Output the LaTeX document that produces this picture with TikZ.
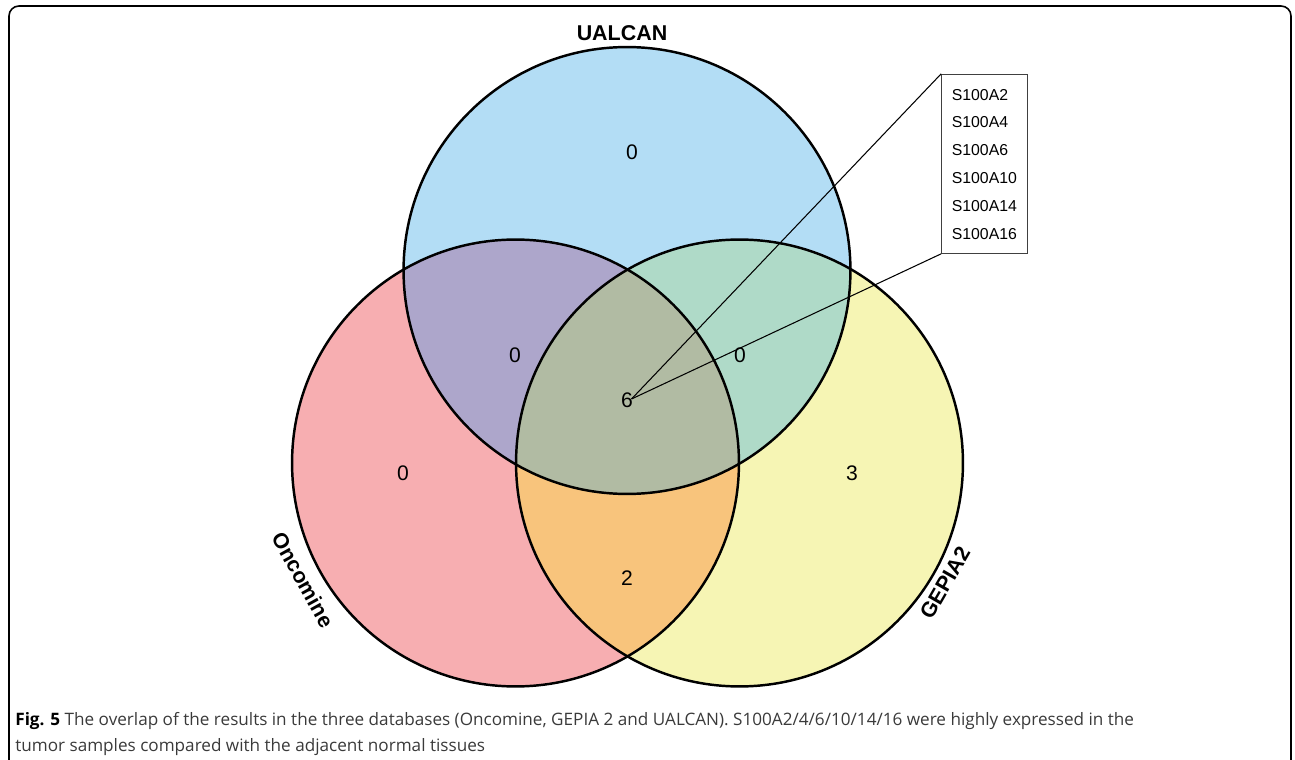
\documentclass[tikz,border=0pt]{standalone}
\usepackage{fontspec}
\setmainfont{Liberation Sans}
\newfontfamily\capfont{Open Sans}
\definecolor{ublue}{HTML}{B3DDF5}
\definecolor{opink}{HTML}{F7AEB1}
\definecolor{gyell}{HTML}{F6F5B4}
\definecolor{oupurp}{HTML}{ADA6CB}
\definecolor{uggreen}{HTML}{AFDAC8}
\definecolor{ogorange}{HTML}{F8C47C}
\definecolor{allmix}{HTML}{B1BBA3}
\definecolor{capgray}{HTML}{3A3A3A}
\tikzset{
  setline/.style={line width=1.4pt, draw=black},
  numlabel/.style={font=\fontsize{12}{14}\selectfont, inner sep=0pt},
  setname/.style={font=\fontsize{12.2}{14}\selectfont\bfseries, inner sep=0pt},
  genebox/.style={draw=black!75, line width=0.6pt, minimum width=1.72cm, minimum height=3.58cm, inner sep=0pt},
  genename/.style={font=\fontsize{9}{10}\selectfont, inner sep=0pt, anchor=west},
  leader/.style={line width=0.6pt, draw=black},
  captext/.style={font=\capfont\fontsize{9.75}{11}\selectfont, text=capgray, inner sep=0pt, anchor=base west},
}
\begin{document}
\begin{tikzpicture}[x=0.02cm, y=-0.02cm]
\useasboundingbox (0,0) rectangle (1295,760);
% frame
\draw[line width=0.9pt, rounded corners=0.2cm] (9,770) -- (9,6) -- (1291,6) -- (1291,770);
% circle centres
\coordinate (U) at (627,270.5);
\coordinate (O) at (515.5,463);
\coordinate (G) at (739.5,463);
% base fills
\fill[ublue] (U) circle[radius=4.47cm];
\fill[opink] (O) circle[radius=4.47cm];
\fill[gyell] (G) circle[radius=4.47cm];
% pairwise
\begin{scope}
  \clip (O) circle[radius=4.47cm];
  \fill[oupurp] (U) circle[radius=4.47cm];
\end{scope}
\begin{scope}
  \clip (G) circle[radius=4.47cm];
  \fill[uggreen] (U) circle[radius=4.47cm];
\end{scope}
\begin{scope}
  \clip (O) circle[radius=4.47cm];
  \fill[ogorange] (G) circle[radius=4.47cm];
\end{scope}
\begin{scope}
  \clip (O) circle[radius=4.47cm];
  \clip (G) circle[radius=4.47cm];
  \fill[allmix] (U) circle[radius=4.47cm];
\end{scope}
% outlines
\draw[setline] (U) circle[radius=4.47cm];
\draw[setline] (O) circle[radius=4.47cm];
\draw[setline] (G) circle[radius=4.47cm];
% set names
\node[setname] (nU) at (622,33) {UALCAN};
\node[setname, rotate=-61] (nO) at (303,580) {Oncomine};
\node[setname, rotate=60] (nG) at (945,583) {GEPIA2};
% counts
\node[numlabel] (cU) at (632,152) {0};
\node[numlabel] (cOU) at (515,355) {0};
\node[numlabel] (cUG) at (740,355) {0};
\node[numlabel] (cAll) at (627,400) {6};
\node[numlabel] (cO) at (403,473) {0};
\node[numlabel] (cG) at (852,473) {3};
\node[numlabel] (cOG) at (627,578) {2};
% gene box
\node[genebox] (box) at (984.7,163.8) {};
\node[genename] (g1) at (951.5,95) {S100A2};
\node[genename] (g2) at (951.5,122.5) {S100A4};
\node[genename] (g3) at (951.5,150) {S100A6};
\node[genename] (g4) at (951.5,178) {S100A10};
\node[genename] (g5) at (951.5,206) {S100A14};
\node[genename] (g6) at (951.5,234) {S100A16};
\coordinate (lead) at (631.5,399);
\draw[leader] (lead) -- (box.north west);
\draw[leader] (lead) -- (box.south west);
% caption
\node[captext] (cap1) at (15,725) {{\bfseries\color{black}Fig. 5} The overlap of the results in the three databases (Oncomine, GEPIA 2 and UALCAN). S100A2/4/6/10/14/16 were highly expressed in the};
\node[captext] (cap2) at (15,751) {tumor samples compared with the adjacent normal tissues};
\end{tikzpicture}
\end{document}
